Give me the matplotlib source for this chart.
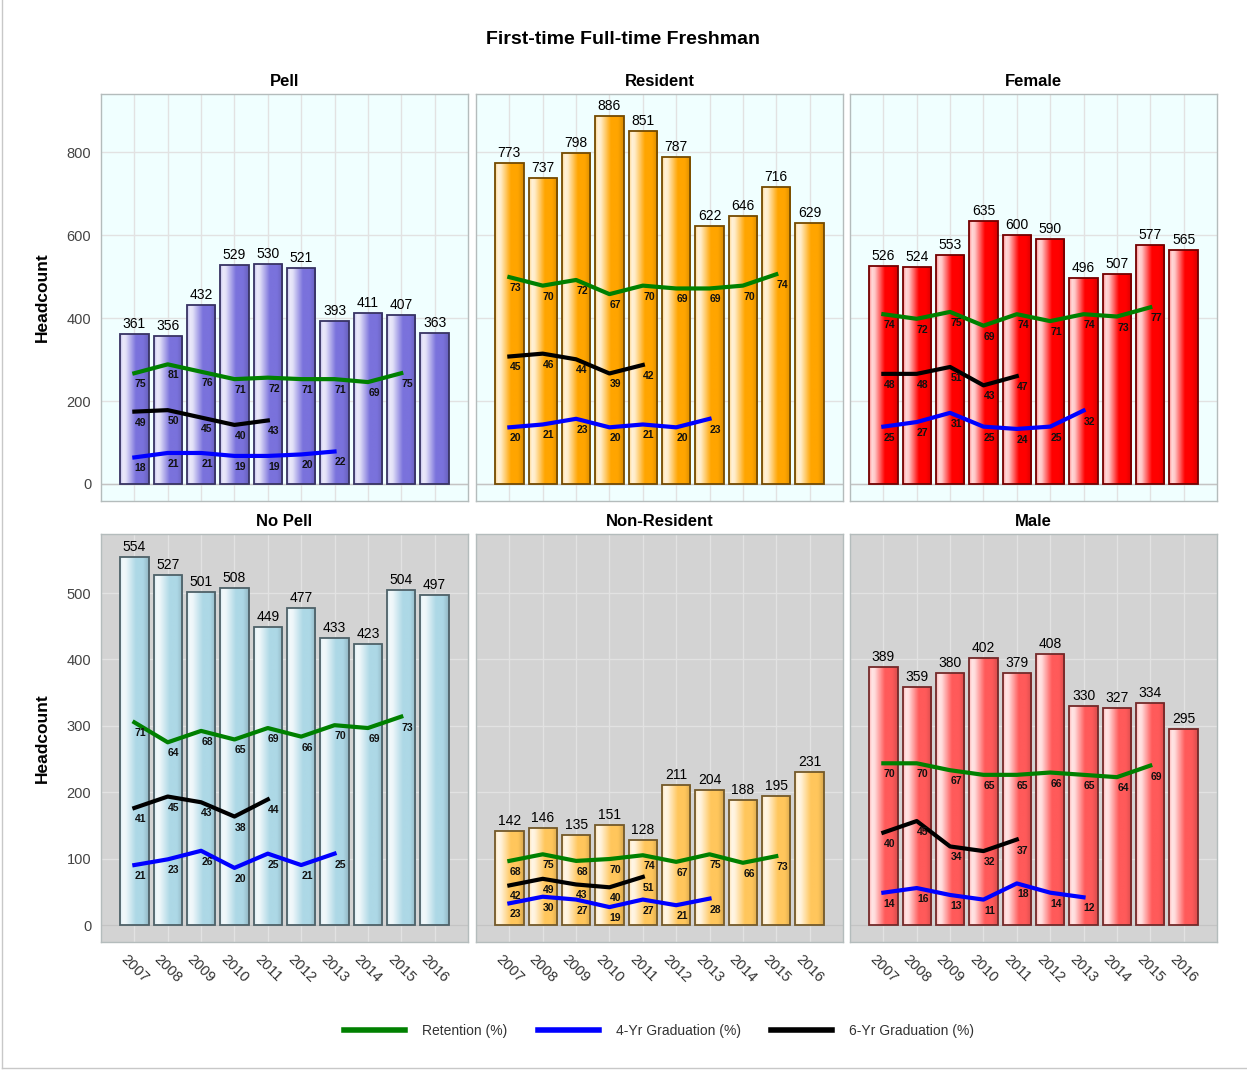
import numpy as np
import matplotlib
matplotlib.use("Agg")
import matplotlib.pyplot as plt
from matplotlib.colors import to_rgb
from matplotlib.lines import Line2D

plt.rcParams['font.family'] = ['Liberation Sans', 'DejaVu Sans']

# ---------------- data ----------------
years = ["2007", "2008", "2009", "2010", "2011", "2012", "2013", "2014", "2015", "2016"]
panel_titles = ["Pell", "Resident", "Female", "No Pell", "Non-Resident", "Male"]

pell_count = [361, 356, 432, 529, 530, 521, 393, 411, 407, 363]
pell_ret = [75, 81, 76, 71, 72, 71, 71, 69, 75]
pell_grad4 = [18, 21, 21, 19, 19, 20, 22]
pell_grad6 = [49, 50, 45, 40, 43]

res_count = [773, 737, 798, 886, 851, 787, 622, 646, 716, 629]
res_ret = [73, 70, 72, 67, 70, 69, 69, 70, 74]
res_grad4 = [20, 21, 23, 20, 21, 20, 23]
res_grad6 = [45, 46, 44, 39, 42]

fem_count = [526, 524, 553, 635, 600, 590, 496, 507, 577, 565]
fem_ret = [74, 72, 75, 69, 74, 71, 74, 73, 77]
fem_grad4 = [25, 27, 31, 25, 24, 25, 32]
fem_grad6 = [48, 48, 51, 43, 47]

nopell_count = [554, 527, 501, 508, 449, 477, 433, 423, 504, 497]
nopell_ret = [71, 64, 68, 65, 69, 66, 70, 69, 73]
nopell_grad4 = [21, 23, 26, 20, 25, 21, 25]
nopell_grad6 = [41, 45, 43, 38, 44]

nonres_count = [142, 146, 135, 151, 128, 211, 204, 188, 195, 231]
nonres_ret = [68, 75, 68, 70, 74, 67, 75, 66, 73]
nonres_grad4 = [23, 30, 27, 19, 27, 21, 28]
nonres_grad6 = [42, 49, 43, 40, 51]

male_count = [389, 359, 380, 402, 379, 408, 330, 327, 334, 295]
male_ret = [70, 70, 67, 65, 65, 66, 65, 64, 69]
male_grad4 = [14, 16, 13, 11, 18, 14, 12]
male_grad6 = [40, 45, 34, 32, 37]

# headcount units per percentage point used by the (hidden) rate axis of each panel
rate_scale = [3.56, 6.83, 5.53, 4.30, 1.42, 3.48]

counts = [pell_count, res_count, fem_count, nopell_count, nonres_count, male_count]
rets = [pell_ret, res_ret, fem_ret, nopell_ret, nonres_ret, male_ret]
grad4s = [pell_grad4, res_grad4, fem_grad4, nopell_grad4, nonres_grad4, male_grad4]
grad6s = [pell_grad6, res_grad6, fem_grad6, nopell_grad6, nonres_grad6, male_grad6]

bar_colors = ["#7a72dc", "#ffa500", "#ff0000", "#add8e6", "#ffc65c", "#ff5a5a"]
series_names = ["Retention (%)", "4-Yr Graduation (%)", "6-Yr Graduation (%)"]
series_colors = ["#008000", "#0000ff", "#000000"]

# ---------------- layout ----------------
W, H = 1247, 1071
fig = plt.figure(figsize=(W / 100, H / 100), dpi=100)
fig.patch.set_facecolor("white")

col_left = [101, 476, 850]
col_w = 367
row_top = [94, 534]
row_h = [407, 408]
row_ylim = [(-41, 940), (-25.6, 589)]
row_ticks = [[0, 200, 400, 600, 800], [0, 100, 200, 300, 400, 500]]
row_bg = ["#f0ffff", "#d3d3d3"]

def gradient_for(color, n=64):
    base = np.array(to_rgb(color))
    xs = np.linspace(0, 1, n)
    white = np.interp(xs, [0, 0.1, 0.2, 0.55, 1.0], [0.55, 0.85, 0.78, 0.0, 0.0])
    dark = np.interp(xs, [0, 0.8, 1.0], [0, 0, 0.15])
    cols = base[None, :] * (1 - white[:, None]) + white[:, None]
    cols = cols * (1 - dark[:, None])
    return cols[None, :, :]

x = np.arange(len(years))
bw = 0.85

for i in range(6):
    r, c = divmod(i, 3)
    left = col_left[c] / W
    bottom = 1 - (row_top[r] + row_h[r]) / H
    ax = fig.add_axes([left, bottom, col_w / W, row_h[r] / H])
    ax.set_facecolor(row_bg[r])
    ylo, yhi = row_ylim[r]

    base = np.array(to_rgb(bar_colors[i]))
    edge = tuple(base * 0.45)
    grad = gradient_for(bar_colors[i])
    bars = ax.bar(x, counts[i], width=bw, color=bar_colors[i], linewidth=0, zorder=2)
    for p in bars:
        im = ax.imshow(grad, extent=[p.get_x(), p.get_x() + p.get_width(), 0, p.get_height()],
                       aspect="auto", zorder=2.1, interpolation="bilinear")
        im.set_clip_path(p)
    ax.bar(x, counts[i], width=bw, fill=False, edgecolor=edge, linewidth=1.3, zorder=2.2)
    for xi, v in zip(x, counts[i]):
        ax.annotate(str(v), (xi, v), xytext=(0, 3), textcoords="offset pixels",
                    ha="center", va="bottom", fontsize=10, color="black", zorder=5)

    ax.set_xlim(-1, 10)
    ax.set_ylim(ylo, yhi)
    ax.set_xticks(x)
    ax.set_yticks(row_ticks[r])
    ax.grid(True, color="#e2e2e2", linewidth=1, zorder=0)
    ax.set_axisbelow(True)
    ax.axhline(0, color="#c4c4c4", linewidth=1, zorder=1)
    ax.tick_params(length=0, labelsize=10.5, colors="#444444", pad=7)
    for s in ax.spines.values():
        s.set_color("#b4bcbc")
        s.set_linewidth(1)
    if r == 1:
        ax.set_xticklabels(years, rotation=-45, ha="center", va="top", color="#333333")
    else:
        ax.set_xticklabels([])
    if c != 0:
        ax.set_yticklabels([])
    ax.set_title(panel_titles[i], fontsize=12, fontweight="bold", pad=6)

    ax2 = ax.twinx()
    ax2.set_ylim(ylo / rate_scale[i], yhi / rate_scale[i])
    ax2.set_xlim(-1, 10)
    ax2.axis("off")
    for vals, col in zip([rets[i], grad4s[i], grad6s[i]], series_colors):
        xs = np.arange(len(vals))
        ax2.plot(xs, vals, color=col, linewidth=3, solid_joinstyle="round", zorder=3)
        for xi, v in zip(xs, vals):
            ax2.annotate(str(v), (xi, v), xytext=(6, -11), textcoords="offset pixels",
                         ha="center", va="center", fontsize=7.5, fontweight="bold",
                         color="#111111", zorder=6)

# titles and labels
fig.text(623.5 / W, 1 - 40 / H, "First-time Full-time Freshman", ha="center", va="center",
         fontsize=14, fontweight="bold")
for r in range(2):
    yc = 1 - (row_top[r] + row_h[r] / 2) / H
    fig.text(42 / W, yc, "Headcount", rotation=90, ha="center", va="center",
             fontsize=12.5, fontweight="bold")

handles = [Line2D([], [], color=col, linewidth=4) for col in series_colors]
fig.legend(handles, series_names, loc="center", bbox_to_anchor=(659 / W, 1 - 1031 / H),
           ncol=3, frameon=False, fontsize=10, handlelength=4.4, handletextpad=1.2,
           columnspacing=2.2, labelcolor="#333333")

# figure border (left and bottom)
fig.add_artist(Line2D([1.5 / W, 1.5 / W], [1 - 1068 / H, 1], color="#c8c8c8", linewidth=1))
fig.add_artist(Line2D([1.5 / W, 1], [1 - 1068 / H, 1 - 1068 / H], color="#c8c8c8", linewidth=1))

fig.savefig("out.png", dpi=100)
